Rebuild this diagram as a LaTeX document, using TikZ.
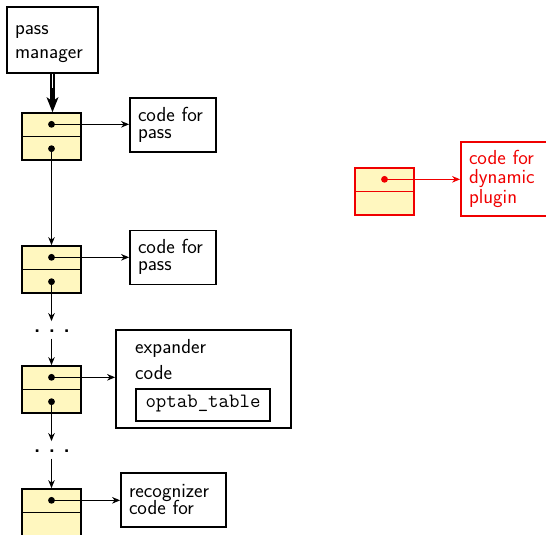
\documentclass[tikz,border=0pt]{standalone}
\usepackage{fontspec}
\usetikzlibrary{arrows.meta,calc}
\definecolor{cellfill}{RGB}{255,247,191}
\definecolor{plugred}{RGB}{240,0,0}
\newcommand\txtsize[1]{\fontsize{20.3}{#1}\selectfont\lineskiplimit=-40pt\relax}
\tikzset{
  frame/.style={draw, line width=1.7pt, rectangle, inner xsep=8pt, inner ysep=0pt,
    align=left, font=\sffamily\txtsize{17}},
  cellbox/.style={draw, line width=1.7pt, fill=cellfill, rectangle,
    minimum width=59pt, minimum height=47pt, inner sep=0pt},
  divider/.style={line width=1.5pt},
  ptr/.style={line width=1.3pt, -{Stealth[length=8pt,width=6.5pt,inset=2.5pt]}},
  ellipsisdots/.style={font=\sffamily\bfseries\txtsize{17}, inner sep=0pt, text height=11pt, text depth=6pt, anchor=base},
}
% a two-cell list element: name, x, y of its centre
\newcommand\listcell[4][black]{%
  \node[cellbox, draw=#1] (#2) at (#3,#4) {};
  \draw[divider, #1] (#2.west) -- (#2.east);
  \coordinate (#2-top) at ($(#2.north)!0.25!(#2.south)$);
  \coordinate (#2-bot) at ($(#2.north)!0.75!(#2.south)$);
}
\newcommand\ptrdot[2][black]{\fill[#1] (#2) circle[radius=3.4pt];}
\begin{document}
\begin{tikzpicture}[x=1pt,y=-1pt]
\useasboundingbox (0,0) rectangle (546,535);
\clip (0,0) rectangle (546,535);

% pass manager
\node[frame, font=\sffamily\txtsize{24}, minimum width=91pt, minimum height=66pt,
      text width=75pt, text height=16.6pt, text depth=28pt] (pm) at (52.5,40) {pass\\manager};

% list elements
\listcell{c1}{51.5}{136.5}
\listcell{c2}{51.5}{269.5}
\listcell{c3}{51.5}{389.5}
\listcell{c4}{51.5}{512.5}

% code blocks
\node[frame, minimum width=86pt, minimum height=54pt, text width=70pt,
      text height=13.5pt, text depth=21pt] (cp1) at (173,125) {code for\\pass};
\node[frame, minimum width=86pt, minimum height=54pt, text width=70pt,
      text height=13.5pt, text depth=21pt] (cp2) at (173,257.5) {code for\\pass};
\node[frame, minimum width=175pt, minimum height=98pt] (exp) at (203.5,379) {};
\node[font=\sffamily\txtsize{26}, inner sep=0pt, anchor=north west, align=left,
      text width=100pt, text height=12pt] (exptxt) at (135,341.3) {expander\\code};
\node[draw, line width=1.7pt, minimum width=134pt, minimum height=32pt, inner sep=0pt,
      font=\ttfamily\txtsize{17}, text height=10.5pt, text depth=5.5pt] (optab) at (203,405) {optab\_table};
\node[frame, minimum width=105pt, minimum height=54pt, text width=89pt,
      text height=15.6pt, text depth=21pt] (rec) at (173.5,500) {recognizer\\code for};

% pass manager to first element
\draw[line width=1.3pt, double distance=1.6pt, shorten >=11pt] (pm.south) -- (pm.south |- c1.north);
\draw[line width=1.3pt, shorten <=14pt, -{Stealth[length=15pt,width=12pt,inset=4pt]}]
  (pm.south) -- (pm.south |- c1.north);

% elided elements
\node[ellipsisdots] (gap1) at (52,332.3) {.\hspace{8.5pt}.\hspace{8.5pt}.};
\node[ellipsisdots] (gap2) at (52,452.3) {.\hspace{8.5pt}.\hspace{8.5pt}.};

% next pointers
\draw[ptr] (c1-bot) -- (c2.north);
\draw[ptr] (c2-bot) -- (c2-bot |- gap1.north);
\draw[ptr] (c2-bot |- gap1.south) -- (c3.north);
\draw[ptr] (c3-bot) -- (c3-bot |- gap2.north);
\draw[ptr] (c3-bot |- gap2.south) -- (c4.north);

% code pointers
\draw[ptr] (c1-top) -- (c1-top -| cp1.west);
\draw[ptr] (c2-top) -- (c2-top -| cp2.west);
\draw[ptr] (c3-top) -- (c3-top -| exp.west);
\draw[ptr] (c4-top) -- (c4-top -| rec.west);

\foreach \p in {c1-top,c1-bot,c2-top,c2-bot,c3-top,c3-bot,c4-top} {\ptrdot{\p}}

% dynamic plugin
\listcell[plugred]{dyn}{384.5}{191.5}
\node[frame, draw=plugred, text=plugred, font=\sffamily\txtsize{19.5},
      minimum width=90pt, minimum height=74pt, text width=74pt,
      text height=13.6pt, text depth=43pt] (plug) at (506,179) {code for\\dynamic\\plugin};
\draw[ptr, plugred] (dyn-top) -- (dyn-top -| plug.west);
\ptrdot[plugred]{dyn-top}
\end{tikzpicture}
\end{document}
